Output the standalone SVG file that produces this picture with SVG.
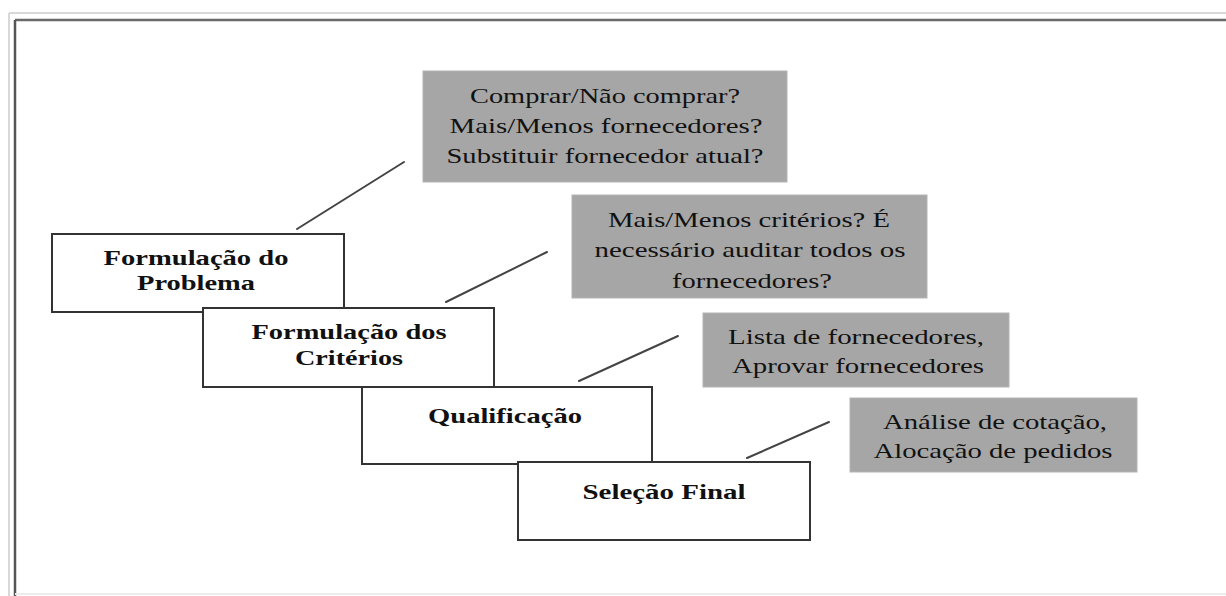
<svg xmlns="http://www.w3.org/2000/svg" width="1226" height="596" viewBox="0 0 1226 596">
  <style>
    .step rect { fill: #ffffff; stroke: #333333; stroke-width: 2; }
    .step text { font-family: "Liberation Serif", "Times New Roman", serif; font-weight: bold; font-size: 21px; fill: #111111; }
    .note rect { fill: #a6a6a6; stroke: #b4b4b4; stroke-width: 1; }
    .note text { font-family: "Liberation Serif", "Times New Roman", serif; font-size: 21px; fill: #111111; }
    #connectors line { stroke: #444444; stroke-width: 2; stroke-linecap: round; }
  </style>

  <rect x="0" y="0" width="1226" height="596" fill="#ffffff"/>

  <!-- window frame -->
  <g id="frame" fill="none">
    <line x1="9" y1="13" x2="1226" y2="13" stroke="#d8d8d8" stroke-width="2"/>
    <line x1="9" y1="13" x2="9" y2="596" stroke="#d8d8d8" stroke-width="2"/>
    <line x1="15" y1="20" x2="1226" y2="20" stroke="#6a6a6a" stroke-width="2.5"/>
    <line x1="15" y1="20" x2="15" y2="596" stroke="#555555" stroke-width="2.5"/>
    <line x1="15" y1="594" x2="1226" y2="594" stroke="#ececec" stroke-width="2"/>
  </g>

  <!-- leader lines from each step to its note -->
  <g id="connectors">
    <line x1="297" y1="229" x2="404" y2="162"/>
    <line x1="446" y1="302" x2="547" y2="252"/>
    <line x1="579" y1="381" x2="678" y2="336"/>
    <line x1="747" y1="458" x2="829" y2="422"/>
  </g>

  <!-- notes -->
  <g id="note-problema" class="note">
    <rect x="423" y="71" width="364" height="111"/>
    <text x="605" y="103" text-anchor="middle" textLength="270" lengthAdjust="spacingAndGlyphs">Comprar/Não comprar?</text>
    <text x="606" y="133" text-anchor="middle" textLength="313" lengthAdjust="spacingAndGlyphs">Mais/Menos fornecedores?</text>
    <text x="605" y="163" text-anchor="middle" textLength="317" lengthAdjust="spacingAndGlyphs">Substituir fornecedor atual?</text>
  </g>

  <g id="note-criterios" class="note">
    <rect x="572" y="195" width="355" height="103"/>
    <text x="749" y="227" text-anchor="middle" textLength="282" lengthAdjust="spacingAndGlyphs">Mais/Menos critérios? É</text>
    <text x="750" y="257" text-anchor="middle" textLength="311" lengthAdjust="spacingAndGlyphs">necessário auditar todos os</text>
    <text x="752" y="288" text-anchor="middle" textLength="160" lengthAdjust="spacingAndGlyphs">fornecedores?</text>
  </g>

  <g id="note-qualificacao" class="note">
    <rect x="703" y="313" width="306" height="74"/>
    <text x="856" y="344" text-anchor="middle" textLength="256" lengthAdjust="spacingAndGlyphs">Lista de fornecedores,</text>
    <text x="858" y="373" text-anchor="middle" textLength="252" lengthAdjust="spacingAndGlyphs">Aprovar fornecedores</text>
  </g>

  <g id="note-selecao" class="note">
    <rect x="850" y="398" width="287" height="74"/>
    <text x="995" y="429" text-anchor="middle" textLength="224" lengthAdjust="spacingAndGlyphs">Análise de cotação,</text>
    <text x="993" y="458" text-anchor="middle" textLength="239" lengthAdjust="spacingAndGlyphs">Alocação de pedidos</text>
  </g>

  <!-- steps, each drawn over the previous one -->
  <g id="step-problema" class="step">
    <rect x="52" y="234" width="292" height="78"/>
    <text x="196" y="265" text-anchor="middle" textLength="185" lengthAdjust="spacingAndGlyphs">Formulação do</text>
    <text x="196" y="290" text-anchor="middle" textLength="118" lengthAdjust="spacingAndGlyphs">Problema</text>
  </g>

  <g id="step-criterios" class="step">
    <rect x="203" y="308" width="291" height="79"/>
    <text x="349" y="339" text-anchor="middle" textLength="195" lengthAdjust="spacingAndGlyphs">Formulação dos</text>
    <text x="349" y="365" text-anchor="middle" textLength="108" lengthAdjust="spacingAndGlyphs">Critérios</text>
  </g>

  <g id="step-qualificacao" class="step">
    <rect x="362" y="387" width="290" height="77"/>
    <text x="505" y="423" text-anchor="middle" textLength="154" lengthAdjust="spacingAndGlyphs">Qualificação</text>
  </g>

  <g id="step-selecao" class="step">
    <rect x="518" y="462" width="292" height="78"/>
    <text x="664" y="499" text-anchor="middle" textLength="163" lengthAdjust="spacingAndGlyphs">Seleção Final</text>
  </g>
</svg>
